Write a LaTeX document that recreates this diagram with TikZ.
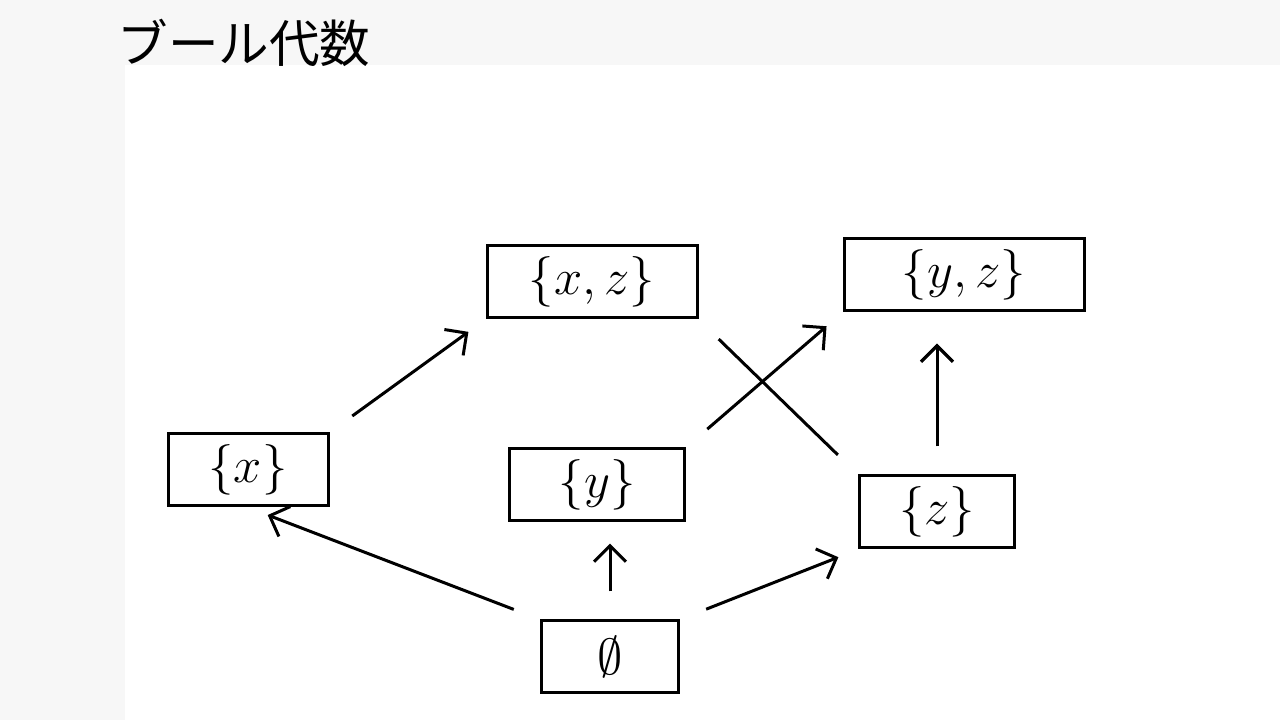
\documentclass[tikz,border=0pt]{standalone}
\usepackage{fontspec}
\newfontfamily\jpfont{Noto Sans CJK JP}
\usetikzlibrary{arrows.meta}
\tikzset{
	setbox/.style={draw, line width=0.3mm, rectangle, inner sep=0pt, minimum height=0.72cm, font=\Large},
	arr/.style={line width=0.3mm, -{Straight Barb[length=1.6mm]}, shorten >=6pt, shorten <=8pt},
	ln/.style={line width=0.3mm, shorten >=8pt, shorten <=8pt}
}
\begin{document}
	\begin{tikzpicture}
		
		\useasboundingbox (0,0) rectangle (12.8,7.2);
		\fill[gray!6] (0,0) rectangle (1.25,7.2);
		\fill[gray!6] (0,6.55) rectangle (12.8,7.2);
		
		\node[font=\jpfont\Large, anchor=west] (title) at (1.05,6.77) {ブール代数};
		
		\node[setbox, minimum width=2.1cm] (xz) at (5.92,4.38) {$\{x,z\}$};
		\node[setbox, minimum width=2.4cm] (yz) at (9.64,4.45) {$\{y,z\}$};
		\node[setbox, minimum width=1.6cm] (x) at (2.48,2.5) {$\{x\}$};
		\node[setbox, minimum width=1.75cm] (y) at (5.97,2.35) {$\{y\}$};
		\node[setbox, minimum width=1.55cm] (z) at (9.37,2.08) {$\{z\}$};
		\node[setbox, minimum width=1.37cm] (e) at (6.1,0.63) {$\emptyset$};
		
		\draw[arr] (e.north west) -- (x.south);
		\draw[arr] (e.north) -- (e.north |- y.south);
		\draw[arr] (e.north east) -- (z.south west);
		\draw[arr] (x.north east) -- (xz.south west);
		\draw[arr] (y.north east) -- (yz.south west);
		\draw[arr] (yz.south -| z.north) ++(0,-0.1) coordinate (zt);
		\draw[arr] (z.north) -- (zt);
		\draw[ln] (z.north west) -- (xz.south east);
		
	\end{tikzpicture}
\end{document}
